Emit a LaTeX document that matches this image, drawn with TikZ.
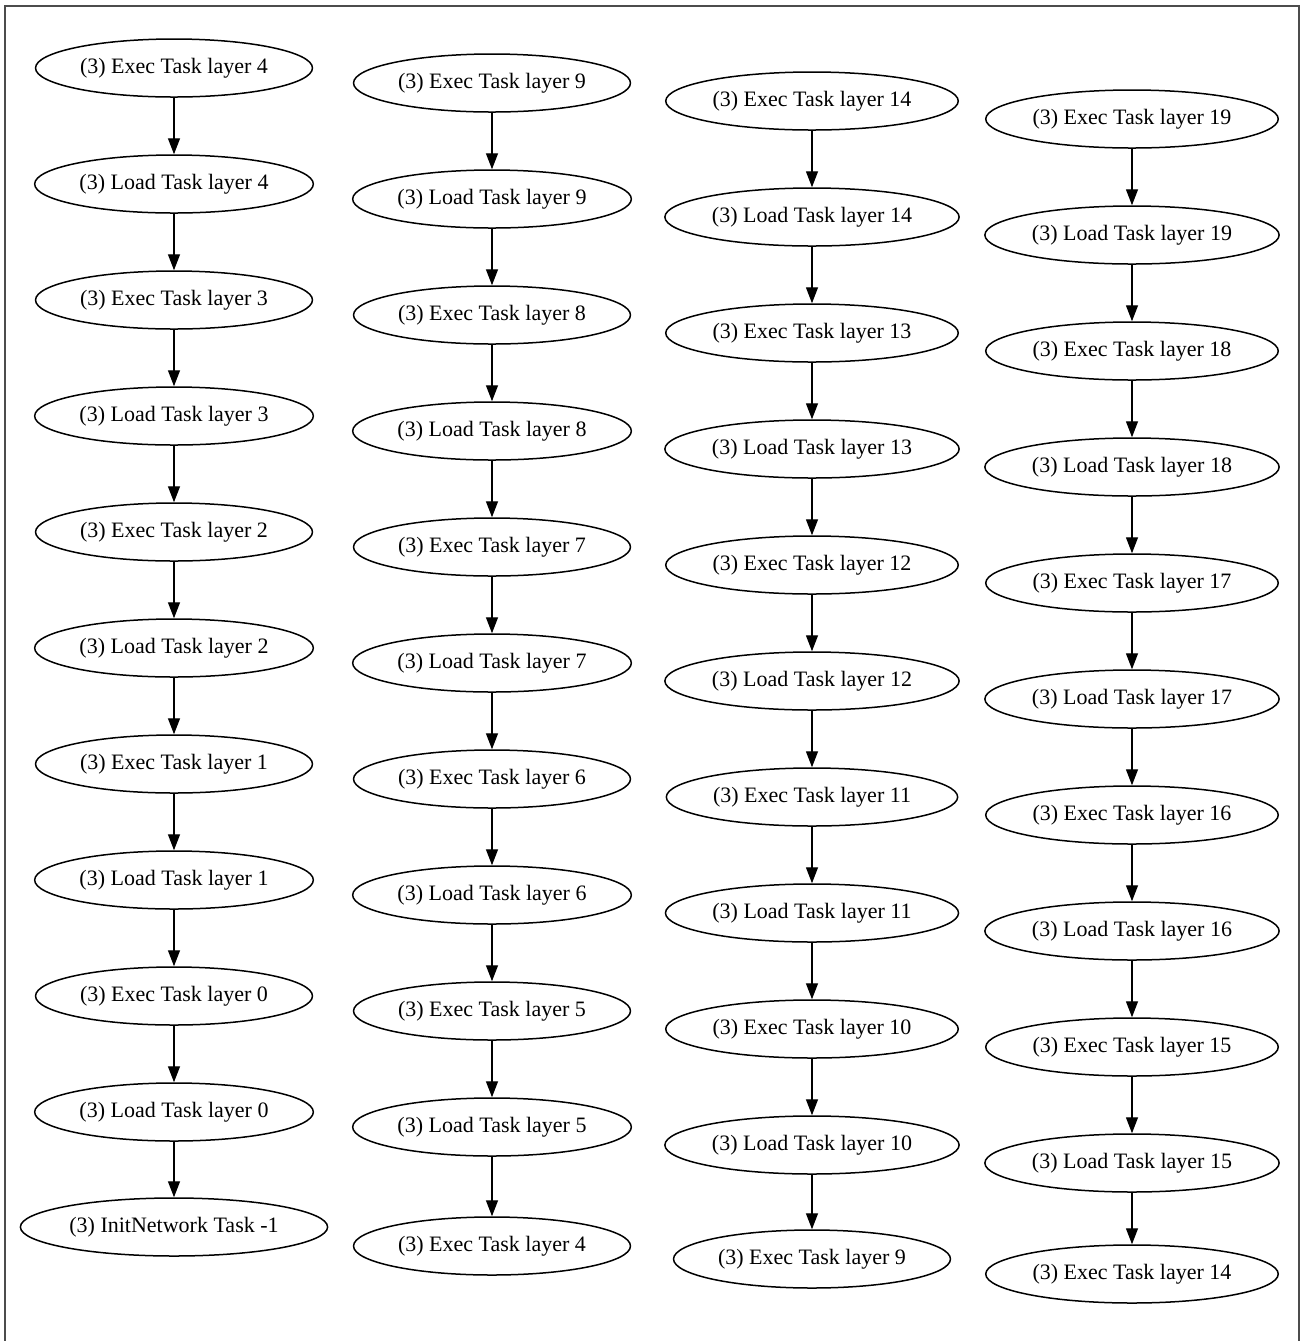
\documentclass[tikz,border=0pt]{standalone}
\usepackage{fontspec}
\setmainfont{Liberation Serif}
\usetikzlibrary{shapes.geometric,arrows.meta}
\begin{document}
\begin{tikzpicture}[x=0.5pt, y=-0.5pt,
    task/.style={ellipse, draw, line width=0.75pt, minimum height=29pt, inner xsep=2pt, inner ysep=0pt,
        font=\fontsize{11}{13}\selectfont},
    flow/.style={-{Triangle[length=8pt,width=6pt]}, line width=0.7pt}]
    \useasboundingbox (0,0) rectangle (1303,1341);
    \draw[black!70, line width=0.8pt] (5,1345) -- (5,6) -- (1299,6) -- (1299,1345);
    \foreach \c/\x/\y/\ylast in {0/174/68/1227, 1/492/83/1246, 2/812/101/1259, 3/1132/119/1274} {
        \pgfmathtruncatemacro\toplayer{4+5*\c}
        \pgfmathtruncatemacro\nextlayer{\toplayer-5}
        \foreach \k in {0,...,4} {
            \pgfmathtruncatemacro\lay{\toplayer-\k}
            \node[task] (e\c-\k) at (\x, \y+232*\k) {(3) Exec Task layer \lay};
            \node[task] (l\c-\k) at (\x, \y+232*\k+116) {(3) Load Task layer \lay};
            \draw[flow] (e\c-\k) -- (l\c-\k);
        }
        \ifnum\c=0
            \node[task] (last\c) at (\x, \ylast) {(3) InitNetwork Task -1};
        \else
            \node[task] (last\c) at (\x, \ylast) {(3) Exec Task layer \nextlayer};
        \fi
        \foreach \k [evaluate=\k as \n using int(\k+1)] in {0,...,3}
            \draw[flow] (l\c-\k) -- (e\c-\n);
        \draw[flow] (l\c-4) -- (last\c);
    }
\end{tikzpicture}
\end{document}
